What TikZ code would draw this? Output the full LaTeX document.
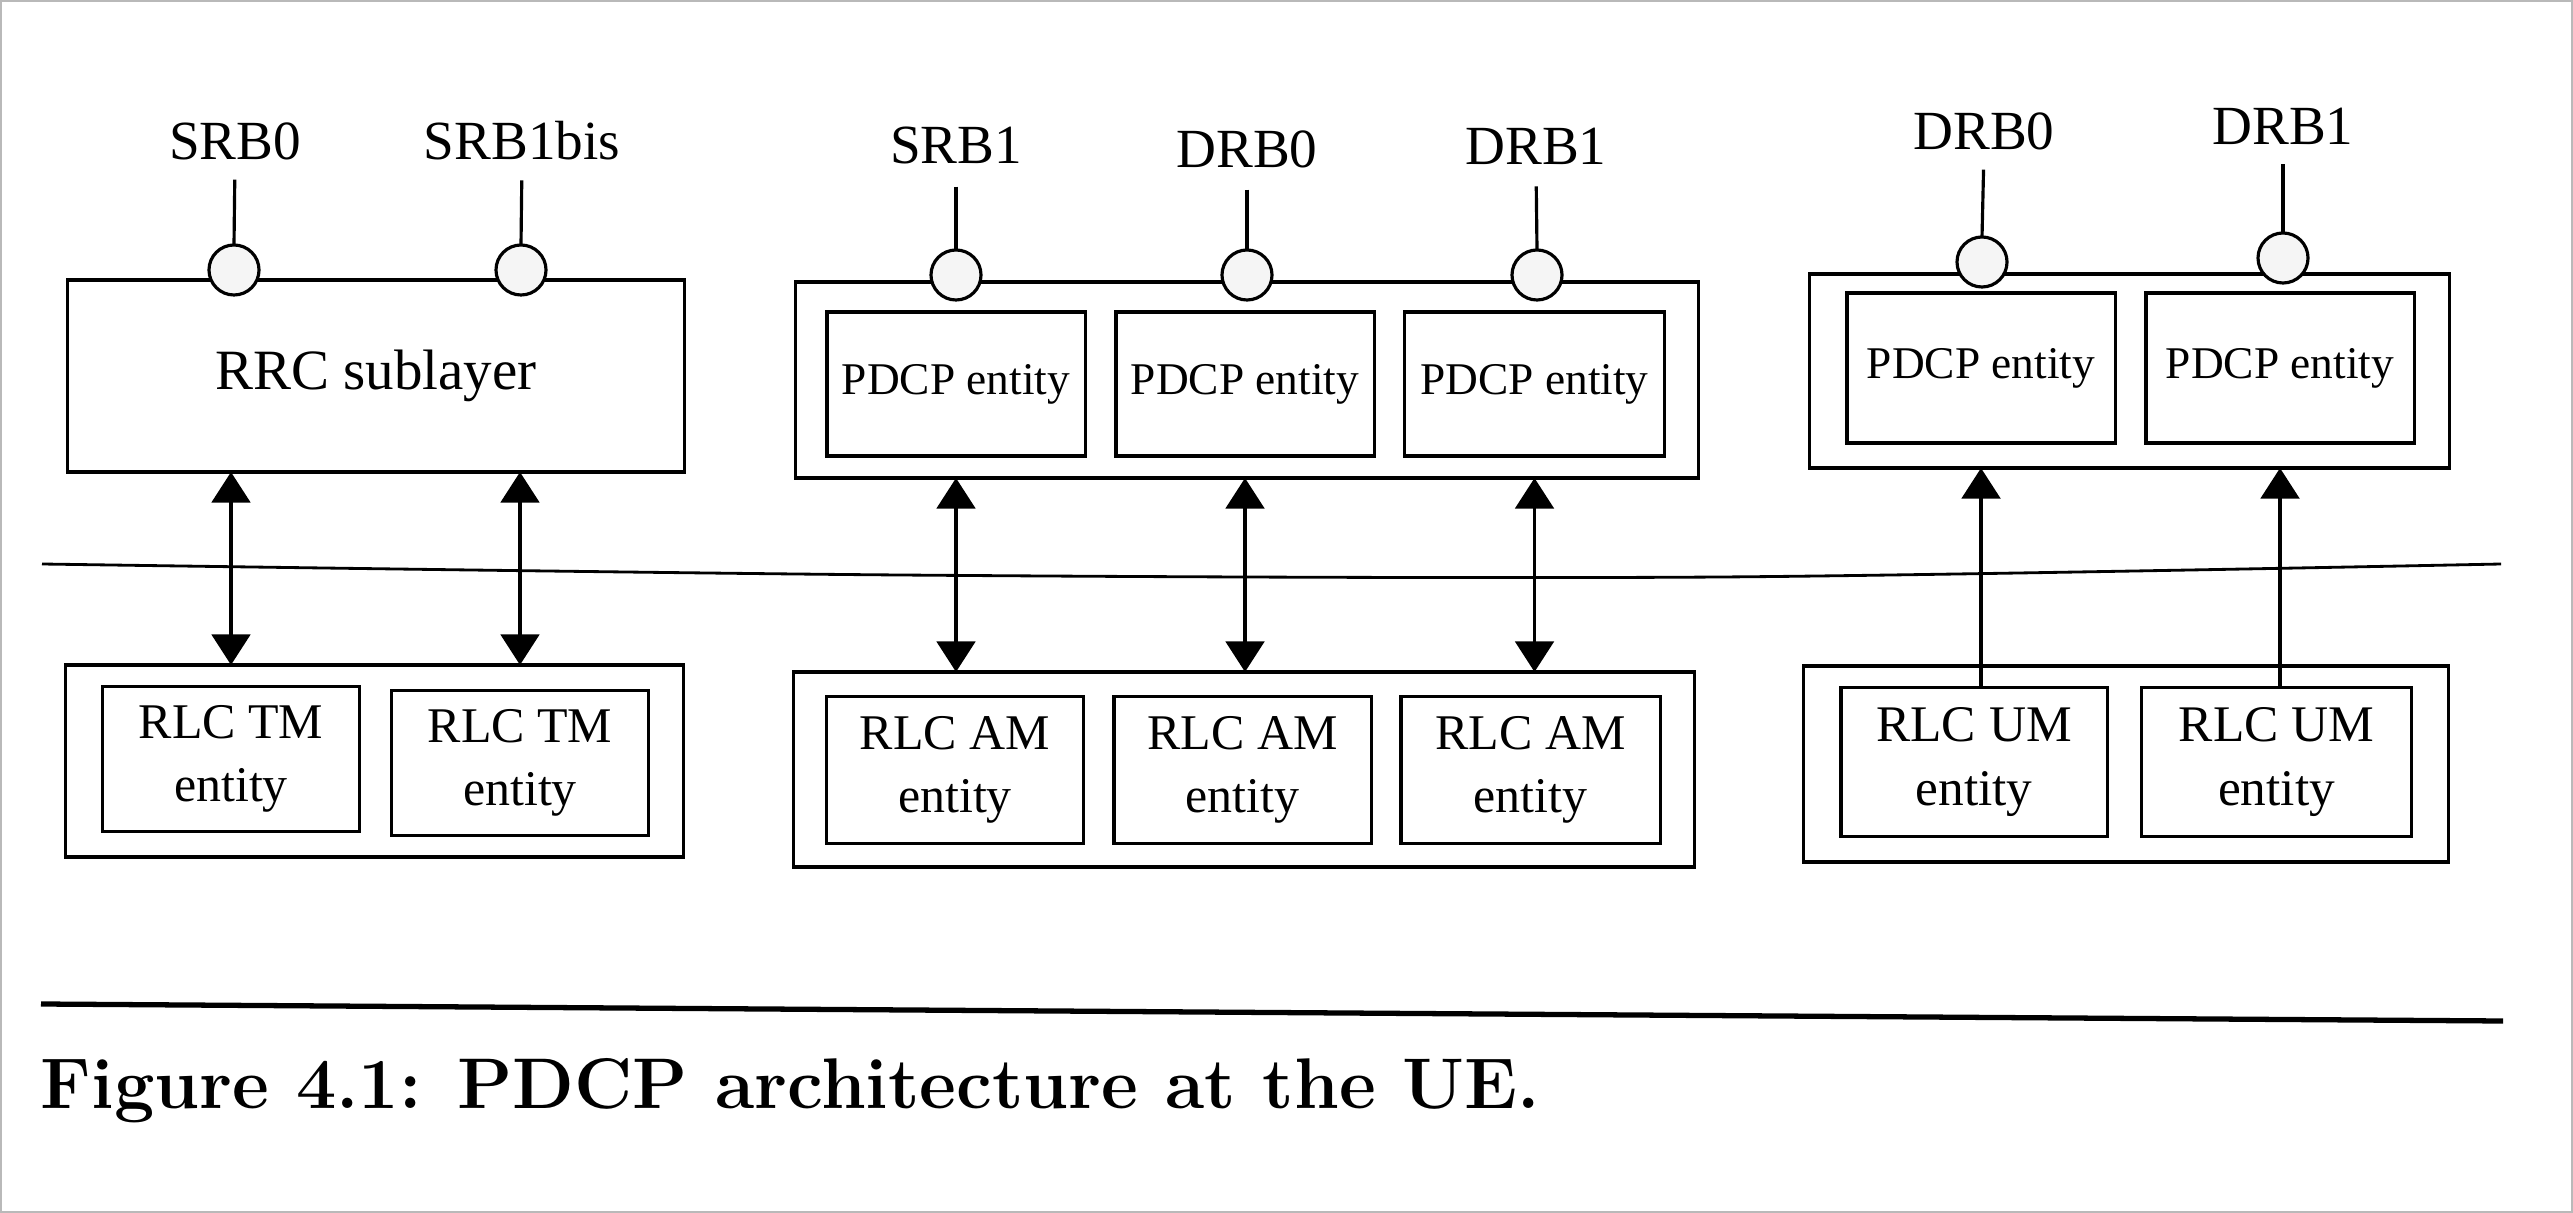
\documentclass[tikz,border=0pt]{standalone}
\usepackage{fontspec}
\newfontfamily\dfont{Liberation Serif}
\usetikzlibrary{arrows.meta}
\begin{document}
\begin{tikzpicture}[x=0.01cm,y=-0.01cm,
  every node/.style={inner sep=0pt,outer sep=0pt},
  box/.style={draw,line width=0.9pt,rectangle},
  lab/.style={font=\dfont\fontsize{15.7}{18}\selectfont},
  ent/.style={font=\dfont\fontsize{12.9}{15}\selectfont},
  rlc/.style={font=\dfont\fontsize{14.2}{18}\selectfont,align=center},
  sap/.style={draw,circle,line width=0.9pt,fill=gray!8,minimum size=0.5cm},
  link/.style={line width=0.9pt},
  tipa/.tip={Triangle[width=11pt,length=8.7pt]},
  bidir/.style={line width=0.9pt,tipa-tipa},
  updir/.style={line width=0.9pt,-tipa}]
\useasboundingbox (0,0) rectangle (2573,1213);
\draw[gray!55,line width=0.6pt] (1,1) rectangle (2572,1212);

% ---------- group 1 ----------
\node[box,minimum width=6.16cm,minimum height=1.92cm,font=\dfont\fontsize{16.2}{19}\selectfont] (rrc) at (376,376) {RRC sublayer};
\node[sap] (s0) at (234,270) {};
\node[sap] (s1b) at (521,270) {};
\node[lab] (l0) at (235,141) {SRB0};
\node[lab] (l1b) at (522,141) {SRB1bis};
\draw[link,shorten <=0.2cm] (l0.south) -- (s0.north);
\draw[link,shorten <=0.2cm] (l1b.south) -- (s1b.north);
\node[box,minimum width=6.17cm,minimum height=1.92cm] (tmo) at (374.5,761) {};
\node[box,rlc,minimum width=2.57cm,minimum height=1.45cm] (tm1) at (231,759) {RLC TM\\entity};
\node[box,rlc,minimum width=2.57cm,minimum height=1.45cm] (tm2) at (520,763) {RLC TM\\entity};
\draw[bidir] (tm1 |- rrc.south) -- (tm1 |- tmo.north);
\draw[bidir] (tm2 |- rrc.south) -- (tm2 |- tmo.north);

% ---------- group 2 ----------
\node[box,minimum width=9.02cm,minimum height=1.96cm] (po) at (1247,380) {};
\node[box,ent,minimum width=2.58cm,minimum height=1.44cm] (p1) at (956,384) {PDCP entity};
\node[box,ent,minimum width=2.58cm,minimum height=1.44cm] (p2) at (1245,384) {PDCP entity};
\node[box,ent,minimum width=2.60cm,minimum height=1.44cm] (p3) at (1534.5,384) {PDCP entity};
\node[sap] (c1) at (956,275) {};
\node[sap] (c2) at (1247,275) {};
\node[sap] (c3) at (1537,275) {};
\node[lab] (m1) at (956,146) {SRB1};
\node[lab] (m2) at (1247,149) {DRB0};
\node[lab] (m3) at (1536,146) {DRB1};
\draw[link,shorten <=0.22cm] (m1.south) -- (c1.north);
\draw[link,shorten <=0.22cm] (m2.south) -- (c2.north);
\draw[link,shorten <=0.22cm] (m3.south) -- (c3.north);
\node[box,minimum width=9.00cm,minimum height=1.95cm] (amo) at (1244,769.5) {};
\node[box,rlc,minimum width=2.57cm,minimum height=1.47cm] (a1) at (955,770) {RLC AM\\entity};
\node[box,rlc,minimum width=2.57cm,minimum height=1.47cm] (a2) at (1242.5,770) {RLC AM\\entity};
\node[box,rlc,minimum width=2.59cm,minimum height=1.47cm] (a3) at (1530.5,770) {RLC AM\\entity};
\draw[bidir] (p1 |- po.south) -- (p1 |- amo.north);
\draw[bidir] (p2 |- po.south) -- (p2 |- amo.north);
\draw[bidir] (p3 |- po.south) -- (p3 |- amo.north);

% ---------- group 3 ----------
\node[box,minimum width=6.39cm,minimum height=1.94cm] (uo) at (2129.5,371) {};
\node[box,ent,minimum width=2.68cm,minimum height=1.50cm] (q1) at (1981,368) {PDCP entity};
\node[box,ent,minimum width=2.68cm,minimum height=1.50cm] (q2) at (2280,368) {PDCP entity};
\node[sap] (d0) at (1982,262) {};
\node[sap] (d1) at (2283,258) {};
\node[lab] (n0) at (1984,131) {DRB0};
\node[lab] (n1) at (2283,126) {DRB1};
\draw[link,shorten <=0.2cm] (n0.south) -- (d0.north);
\draw[link,shorten <=0.2cm] (n1.south) -- (d1.north);
\node[box,minimum width=6.44cm,minimum height=1.96cm] (umo) at (2126,764) {};
\node[box,rlc,font=\dfont\fontsize{14.6}{18}\selectfont,minimum width=2.66cm,minimum height=1.49cm] (u1) at (1974,762) {RLC UM\\entity};
\node[box,rlc,font=\dfont\fontsize{14.6}{18}\selectfont,minimum width=2.70cm,minimum height=1.49cm] (u2) at (2276.5,762) {RLC UM\\entity};
\draw[updir] (q1 |- u1.north) -- (q1 |- uo.south);
\draw[updir] (q2 |- u2.north) -- (q2 |- uo.south);

% ---------- separator and caption ----------
\draw[line width=0.8pt] plot[smooth] coordinates {(42,564) (900,575) (1720,577) (2501,564)};
\draw[line width=1.5pt] (41,1004) -- (2503,1021);
\node[anchor=base west,font=\fontsize{20.4}{24}\selectfont\bfseries] (cap) at (41,1108) {Figure 4.1: PDCP architecture at the UE.};
\end{tikzpicture}
\end{document}
